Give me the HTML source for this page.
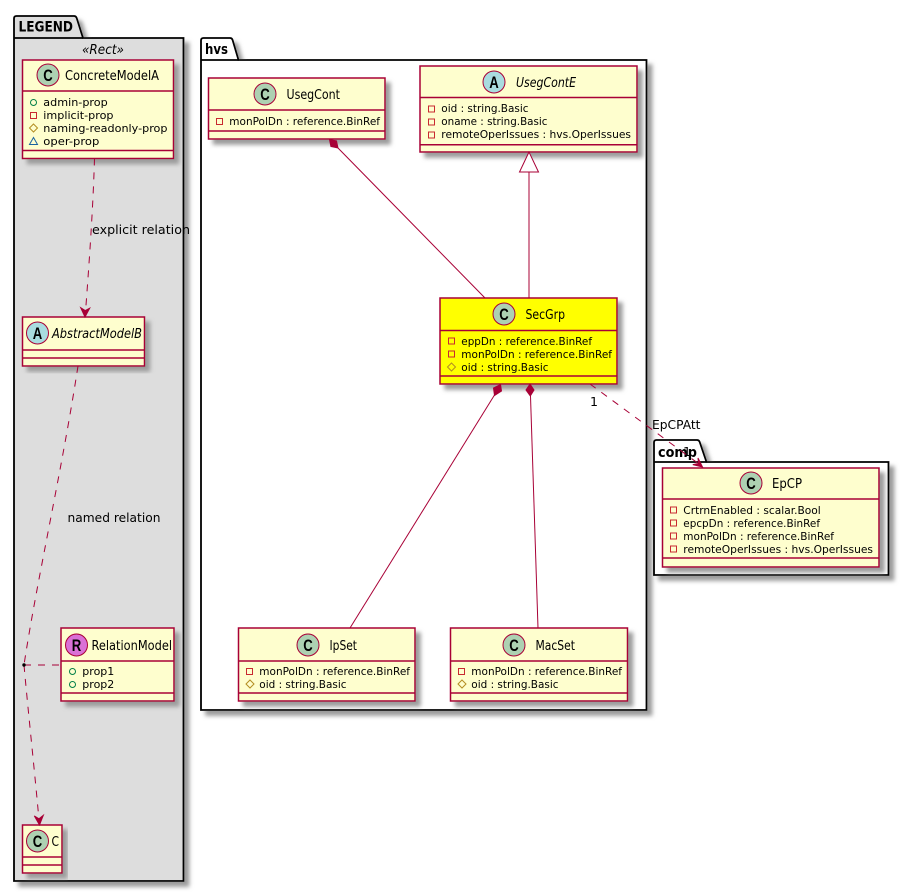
<!DOCTYPE html>
<html>
<head>
<meta charset="utf-8">
<style>
html,body{margin:0;padding:0;background:#fff}
svg{display:block}
text{font-family:"DejaVu Sans","Liberation Sans",sans-serif;fill:#000;font-size:11px}
.t{font-size:13px}
.i{font-style:italic}
.l{font-size:12.5px}
.b{font-weight:bold;font-size:14px}
.g{font-family:"Liberation Sans",sans-serif;font-weight:bold;font-size:17px}
.cls{fill:#FEFECE;stroke:#A80036;stroke-width:1.5}
.y{fill:#FFFF00}
.sep{stroke:#A80036;stroke-width:1.5;fill:none}
.pkg{stroke:#000;stroke-width:1.8;fill:#fff}
.rel{stroke:#A80036;stroke-width:1;fill:none}
.d{stroke-dasharray:7,7}
.c{fill:#ADD1B2;stroke:#A80036;stroke-width:1}
.a{fill:#A9DCDF;stroke:#A80036;stroke-width:1}
.r{fill:#DA70D6;stroke:#A80036;stroke-width:1}
.priv{fill:none;stroke:#C82930;stroke-width:1}
.pub{fill:none;stroke:#038048;stroke-width:1}
.pro{fill:none;stroke:#B38D22;stroke-width:1}
.pkgp{fill:none;stroke:#1963A0;stroke-width:1}
</style>
</head>
<body>
<svg width="909" height="892" viewBox="0 0 909 892" xmlns="http://www.w3.org/2000/svg">
<defs>
<filter id="s" x="-10%" y="-10%" width="125%" height="125%">
<feGaussianBlur in="SourceAlpha" stdDeviation="2" result="b"/>
<feOffset in="b" dx="5" dy="5" result="o"/>
<feColorMatrix in="o" type="matrix" values="0 0 0 0 0.33 0 0 0 0 0.33 0 0 0 0 0.33 0 0 0 1 0" result="c"/>
<feMerge><feMergeNode in="c"/><feMergeNode in="SourceGraphic"/></feMerge>
</filter>
</defs>

<!-- packages -->
<g filter="url(#s)">
<path class="pkg" style="fill:#DDDDDD" d="M14,38 V18.5 Q14,16 16.5,16 H74 Q76,16 76.7,18 L83,38 H183.5 V881 H14 Z"/>
</g>
<path d="M14,38 H83" stroke="#000" stroke-width="1.8" fill="none"/>
<text class="b" x="18.5" y="31.5" textLength="54.5" lengthAdjust="spacingAndGlyphs">LEGEND</text>

<g filter="url(#s)">
<path class="pkg" d="M201,60 V40.5 Q201,38 203.5,38 H230 Q232,38 232.6,40 L238.5,60 H646.5 V710 H201 Z"/>
</g>
<path d="M201,60 H238.5" stroke="#000" stroke-width="1.8" fill="none"/>
<text class="b" x="205" y="54" textLength="23" lengthAdjust="spacingAndGlyphs">hvs</text>

<g filter="url(#s)">
<path class="pkg" d="M654,462 V442.5 Q654,440 656.5,440 H697 Q699,440 699.7,442 L706.5,462 H888.5 V575 H654 Z"/>
</g>
<path d="M654,462 H706.5" stroke="#000" stroke-width="1.8" fill="none"/>
<text class="b" x="658" y="457" textLength="39" lengthAdjust="spacingAndGlyphs">comp</text>

<text class="i" x="82" y="54" style="font-size:13px" textLength="42" lengthAdjust="spacingAndGlyphs">«Rect»</text>

<!-- ConcreteModelA -->
<g filter="url(#s)"><rect class="cls" x="22.5" y="60" width="151" height="98.5"/></g>
<path class="sep" d="M22.5,91 H173.5 M22.5,150.5 H173.5"/>
<circle class="c" cx="48" cy="75" r="11"/>
<text class="g" x="48" y="81" text-anchor="middle" textLength="9.5" lengthAdjust="spacingAndGlyphs">C</text>
<text class="t" x="65" y="80" textLength="94" lengthAdjust="spacingAndGlyphs">ConcreteModelA</text>
<circle class="pub" cx="33.5" cy="102.5" r="3"/>
<rect class="priv" x="30.5" y="112.5" width="6" height="6"/>
<path class="pro" d="M33.5,124 L37.5,128 L33.5,132 L29.5,128 Z"/>
<path class="pkgp" d="M33.5,137.5 L37.5,144.5 H29.5 Z"/>
<text x="43.3" y="106" textLength="64.4" lengthAdjust="spacingAndGlyphs">admin-prop</text>
<text x="43.3" y="119" textLength="70.2" lengthAdjust="spacingAndGlyphs">implicit-prop</text>
<text x="43.3" y="132" textLength="124.2" lengthAdjust="spacingAndGlyphs">naming-readonly-prop</text>
<text x="43.3" y="145" textLength="56" lengthAdjust="spacingAndGlyphs">oper-prop</text>

<!-- AbstractModelB -->
<g filter="url(#s)"><rect class="cls" x="22.5" y="317" width="122" height="49"/></g>
<path class="sep" d="M22.5,350 H144.5 M22.5,358 H144.5"/>
<circle class="a" cx="37.5" cy="333" r="11"/>
<text class="g" x="37.5" y="339" text-anchor="middle" textLength="9.5" lengthAdjust="spacingAndGlyphs">A</text>
<text class="t i" x="52" y="338" textLength="90" lengthAdjust="spacingAndGlyphs">AbstractModelB</text>

<!-- RelationModel -->
<g filter="url(#s)"><rect class="cls" x="61" y="628" width="113" height="73"/></g>
<path class="sep" d="M61,661 H174 M61,693 H174"/>
<circle class="r" cx="76.5" cy="645" r="11"/>
<text class="g" x="76.5" y="651" text-anchor="middle" textLength="9.5" lengthAdjust="spacingAndGlyphs">R</text>
<text class="t" x="91.5" y="650" textLength="80.5" lengthAdjust="spacingAndGlyphs">RelationModel</text>
<circle class="pub" cx="72.5" cy="671.5" r="3"/>
<circle class="pub" cx="72.5" cy="684.5" r="3"/>
<text x="82.3" y="675" textLength="32" lengthAdjust="spacingAndGlyphs">prop1</text>
<text x="82.3" y="688" textLength="32" lengthAdjust="spacingAndGlyphs">prop2</text>

<!-- C -->
<g filter="url(#s)"><rect class="cls" x="22.5" y="825" width="39.5" height="48"/></g>
<path class="sep" d="M22.5,857 H62 M22.5,865 H62"/>
<circle class="c" cx="37.5" cy="841" r="11"/>
<text class="g" x="37.5" y="847" text-anchor="middle" textLength="9.5" lengthAdjust="spacingAndGlyphs">C</text>
<text class="t" x="51.5" y="846" textLength="7.5" lengthAdjust="spacingAndGlyphs">C</text>

<!-- UsegCont -->
<g filter="url(#s)"><rect class="cls" x="208.5" y="78" width="176.5" height="61"/></g>
<path class="sep" d="M208.5,110 H385 M208.5,131 H385"/>
<circle class="c" cx="265" cy="94" r="11"/>
<text class="g" x="265" y="100" text-anchor="middle" textLength="9.5" lengthAdjust="spacingAndGlyphs">C</text>
<text class="t" x="286.5" y="99" textLength="53.5" lengthAdjust="spacingAndGlyphs">UsegCont</text>
<rect class="priv" x="216.5" y="118.5" width="6" height="6"/>
<text x="229.3" y="125" textLength="150.7" lengthAdjust="spacingAndGlyphs">monPolDn : reference.BinRef</text>

<!-- UsegContE -->
<g filter="url(#s)"><rect class="cls" x="420" y="66" width="217" height="86"/></g>
<path class="sep" d="M420,97.5 H637 M420,144.7 H637"/>
<circle class="a" cx="494" cy="82" r="11"/>
<text class="g" x="494" y="88" text-anchor="middle" textLength="9.5" lengthAdjust="spacingAndGlyphs">A</text>
<text class="t i" x="516" y="87" textLength="60" lengthAdjust="spacingAndGlyphs">UsegContE</text>
<rect class="priv" x="428.5" y="106" width="6" height="6"/>
<rect class="priv" x="428.5" y="119" width="6" height="6"/>
<rect class="priv" x="428.5" y="132" width="6" height="6"/>
<text x="441.3" y="112" textLength="87.2" lengthAdjust="spacingAndGlyphs">oid : string.Basic</text>
<text x="441.3" y="125" textLength="106.2" lengthAdjust="spacingAndGlyphs">oname : string.Basic</text>
<text x="441.3" y="138" textLength="189.7" lengthAdjust="spacingAndGlyphs">remoteOperIssues : hvs.OperIssues</text>

<!-- SecGrp -->
<g filter="url(#s)"><rect class="cls y" x="440" y="298" width="177" height="86"/></g>
<path class="sep" d="M440,330.5 H617 M440,376 H617"/>
<circle class="c" cx="504" cy="314" r="11"/>
<text class="g" x="504" y="320" text-anchor="middle" textLength="9.5" lengthAdjust="spacingAndGlyphs">C</text>
<text class="t" x="525.5" y="319" textLength="39.5" lengthAdjust="spacingAndGlyphs">SecGrp</text>
<rect class="priv" x="448.5" y="338" width="6" height="6"/>
<rect class="priv" x="448.5" y="351" width="6" height="6"/>
<path class="pro" d="M451.5,363 L455.5,367 L451.5,371 L447.5,367 Z"/>
<text x="461.3" y="345" textLength="130.7" lengthAdjust="spacingAndGlyphs">eppDn : reference.BinRef</text>
<text x="461.3" y="358" textLength="150.7" lengthAdjust="spacingAndGlyphs">monPolDn : reference.BinRef</text>
<text x="461.3" y="371" textLength="87.2" lengthAdjust="spacingAndGlyphs">oid : string.Basic</text>

<!-- IpSet -->
<g filter="url(#s)"><rect class="cls" x="238.5" y="628" width="176.5" height="73"/></g>
<path class="sep" d="M238.5,661 H415 M238.5,693 H415"/>
<circle class="c" cx="308" cy="645" r="11"/>
<text class="g" x="308" y="651" text-anchor="middle" textLength="9.5" lengthAdjust="spacingAndGlyphs">C</text>
<text class="t" x="329.5" y="650" textLength="27.5" lengthAdjust="spacingAndGlyphs">IpSet</text>
<rect class="priv" x="246.5" y="668.5" width="6" height="6"/>
<path class="pro" d="M250,680 L254,684 L250,688 L246,684 Z"/>
<text x="259.3" y="675" textLength="150.7" lengthAdjust="spacingAndGlyphs">monPolDn : reference.BinRef</text>
<text x="259.3" y="688" textLength="87.2" lengthAdjust="spacingAndGlyphs">oid : string.Basic</text>

<!-- MacSet -->
<g filter="url(#s)"><rect class="cls" x="450.5" y="628" width="177" height="73"/></g>
<path class="sep" d="M450.5,661 H627.5 M450.5,693 H627.5"/>
<circle class="c" cx="514" cy="645" r="11"/>
<text class="g" x="514" y="651" text-anchor="middle" textLength="9.5" lengthAdjust="spacingAndGlyphs">C</text>
<text class="t" x="535.5" y="650" textLength="39.5" lengthAdjust="spacingAndGlyphs">MacSet</text>
<rect class="priv" x="458.5" y="668.5" width="6" height="6"/>
<path class="pro" d="M462,680 L466,684 L462,688 L458,684 Z"/>
<text x="471.3" y="675" textLength="150.7" lengthAdjust="spacingAndGlyphs">monPolDn : reference.BinRef</text>
<text x="471.3" y="688" textLength="87.2" lengthAdjust="spacingAndGlyphs">oid : string.Basic</text>

<!-- EpCP -->
<g filter="url(#s)"><rect class="cls" x="662.5" y="468" width="216.5" height="99"/></g>
<path class="sep" d="M662.5,499 H879 M662.5,558 H879"/>
<circle class="c" cx="751" cy="483" r="11"/>
<text class="g" x="751" y="489" text-anchor="middle" textLength="9.5" lengthAdjust="spacingAndGlyphs">C</text>
<text class="t" x="772" y="488" textLength="30" lengthAdjust="spacingAndGlyphs">EpCP</text>
<rect class="priv" x="670.5" y="507" width="6" height="6"/>
<rect class="priv" x="670.5" y="520" width="6" height="6"/>
<rect class="priv" x="670.5" y="533" width="6" height="6"/>
<rect class="priv" x="670.5" y="546" width="6" height="6"/>
<text x="683.3" y="514" textLength="137.4" lengthAdjust="spacingAndGlyphs">CrtrnEnabled : scalar.Bool</text>
<text x="683.3" y="527" textLength="136.7" lengthAdjust="spacingAndGlyphs">epcpDn : reference.BinRef</text>
<text x="683.3" y="540" textLength="150.7" lengthAdjust="spacingAndGlyphs">monPolDn : reference.BinRef</text>
<text x="683.3" y="553" textLength="189.7" lengthAdjust="spacingAndGlyphs">remoteOperIssues : hvs.OperIssues</text>

<!-- relations: legend -->
<path class="rel d" d="M94.5,158.5 C93,210 89,265 85.5,312"/>
<polygon points="85,317 80.7,307.7 85.2,310.6 89.7,308.2" fill="#A80036" stroke="#A80036"/>
<text class="l" x="92" y="234" textLength="98" lengthAdjust="spacingAndGlyphs">explicit relation</text>

<path class="rel d" d="M78,366 C62,470 36,585 24,665"/>
<path class="rel d" d="M24,665 C28,710 35,775 39,820"/>
<polygon points="39.5,825 34.3,815.9 39,818.8 43.3,815.3" fill="#A80036" stroke="#A80036"/>
<path class="rel d" d="M24,665 H61"/>
<circle cx="24" cy="665" r="1.7" fill="#000"/>
<text class="l" x="67.5" y="522" textLength="93" lengthAdjust="spacingAndGlyphs">named relation</text>

<!-- relations: hvs -->
<path class="rel" d="M338,148 L485,298"/>
<polygon points="329.5,139.5 336.5,140.9 338,148 330.9,146.5" fill="#A80036" stroke="#A80036"/>
<path class="rel" d="M529,172 V298"/>
<polygon points="529,152 519.5,172 538.5,172" fill="#FFFFFF" stroke="#A80036"/>
<path class="rel" d="M494.5,395 L350,628"/>
<polygon points="500.5,384.5 501.5,391 494.5,395.5 493.5,388" fill="#A80036" stroke="#A80036"/>
<path class="rel" d="M530.5,396 L538,628"/>
<polygon points="530,384 534,390 530.3,396 526,390" fill="#A80036" stroke="#A80036"/>

<path class="rel d" d="M590,384 L699,464"/>
<polygon points="702.5,467 692.8,464.6 698.5,463.5 698,458" fill="#A80036" stroke="#A80036"/>
<text class="l" x="590" y="406" textLength="8" lengthAdjust="spacingAndGlyphs">1</text>
<text class="l" x="652" y="429" textLength="48.5" lengthAdjust="spacingAndGlyphs">EpCPAtt</text>
<text class="l" x="683" y="456" textLength="8" lengthAdjust="spacingAndGlyphs">1</text>
</svg>
</body>
</html>
